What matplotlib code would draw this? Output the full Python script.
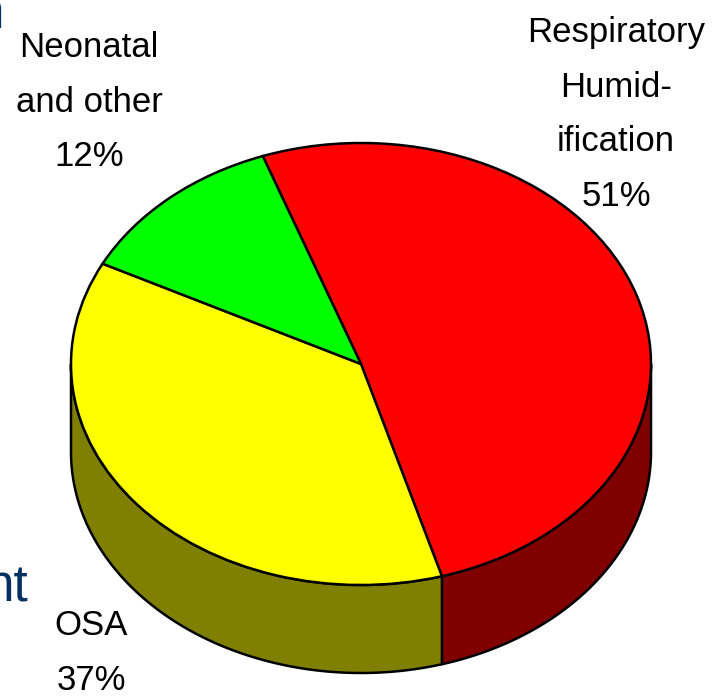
import numpy as np
import matplotlib
matplotlib.use("Agg")
import matplotlib.pyplot as plt

W, H = 717, 697

categories = ["Respiratory\nHumid-\nification\n51%", "OSA\n37%", "Neonatal\nand other\n12%"]
shares = [51, 37, 12]
top_colors = ["#FF0000", "#FFFF00", "#00FF00"]
side_colors = ["#800000", "#808000", "#008000"]
START_ANGLE = 109.8

CX, CY = 361, 364
RX, RY = 290, 221
DEPTH = 88 / RY
LW = 1.8

FONT = "Liberation Sans"
FS = 25
NAVY = "#00305F"


def fx(x):
    return x / W


def fy(y):
    return 1 - y / H


def draw_side(ax, a0, a1, color):
    # a0 > a1, pie runs clockwise; only the front half of the rim shows
    a0 = min(a0, 360 * np.ceil(a1 / 360))
    lo = max(a1, 360 * np.ceil(a1 / 360) - 180)
    if a0 <= lo:
        return
    t = np.radians(np.linspace(lo, a0, 120))
    xs = np.cos(t)
    ys = np.sin(t)
    ax.fill(np.r_[xs, xs[::-1]], np.r_[ys, ys[::-1] - DEPTH],
            facecolor=color, edgecolor="black", linewidth=LW, zorder=1, joinstyle="round")


fig = plt.figure(figsize=(W / 100, H / 100), dpi=100, facecolor="white")
ax = fig.add_axes([0, 0, 1, 1])

angle = START_ANGLE
for share, color in zip(shares, side_colors):
    end = angle - share * 3.6
    if end < -180:
        draw_side(ax, angle, -180, color)
    else:
        draw_side(ax, angle, end, color)
    angle = end

wedges, _ = ax.pie(shares, colors=top_colors, startangle=START_ANGLE, counterclock=False,
                   radius=1, wedgeprops={"edgecolor": "black", "linewidth": LW, "zorder": 3})
ax.set_aspect("auto")
ax.set_xlim(-CX / RX, (W - CX) / RX)
ax.set_ylim((CY - H) / RY, CY / RY)
ax.axis("off")

label_pos = [(616, 16), (91, 609), (89, 31)]
for label, (x, y) in zip(categories, label_pos):
    fig.text(fx(x), fy(y), label, family=FONT, fontsize=FS, color="black",
             ha="center", va="top", linespacing=1.83)

# cut-off slide text behind the chart
fig.text(fx(28), fy(602), "nt", family=FONT, fontsize=37, color=NAVY,
         ha="right", va="baseline")
fig.text(fx(4), fy(28), "n", family=FONT, fontsize=37, color=NAVY,
         ha="right", va="baseline")

fig.savefig("out.png", dpi=100)
plt.close(fig)
